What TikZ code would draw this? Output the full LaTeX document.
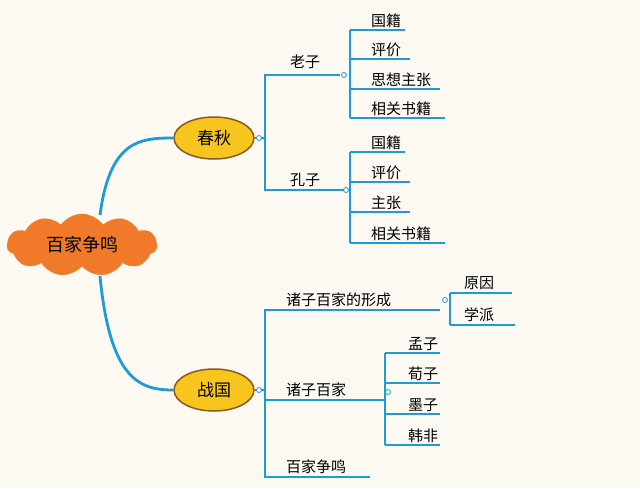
\documentclass[tikz,border=0pt]{standalone}
\usepackage{fontspec}
\newfontfamily\cjk{Noto Sans CJK SC}
\usetikzlibrary{shapes.symbols,shapes.geometric}
\definecolor{bg}{HTML}{FBF9F2}
\definecolor{ln}{HTML}{1E9BD7}
\definecolor{cl}{HTML}{F07A2A}
\definecolor{yl}{HTML}{F7C51E}
\definecolor{br}{HTML}{8A5A1E}
\begin{document}
\begin{tikzpicture}[x=1pt,y=-1pt,
  lab/.style={font=\cjk\fontsize{15}{18}\selectfont,inner sep=1pt},
  ln/.style={draw=ln,line width=2.3pt},
  bub/.style={ellipse,fill=yl,draw=br,line width=1.5pt,minimum width=80pt,minimum height=42pt,font=\cjk\fontsize{17}{20}\selectfont},
  dot/.style={circle,draw=ln,fill=bg,line width=0.8pt,inner sep=0pt,minimum size=5pt}]
\fill[bg] (0,0) rectangle (640,488);
\useasboundingbox (0,0) rectangle (640,488);
\node[cloud,cloud puffs=11,cloud puff arc=110,aspect=2.4,fill=cl,draw=cl,minimum width=150pt,minimum height=62pt,font=\cjk\fontsize{18}{20}\selectfont] (root) at (82,245) {百家争鸣};
\node[bub] (cq) at (214,138) {春秋};
\node[bub] (zg) at (214,390) {战国};
\draw[ln,line width=2.8pt] (100,215) .. controls (110,140) and (140,138) .. (cq.west);
\draw[ln,line width=2.8pt] (100,276) .. controls (110,380) and (140,390) .. (zg.west);
% 春秋
\coordinate (a1) at (265,75); \coordinate (a2) at (265,190);
\draw[ln] (cq.east) -- (265,138);
\draw[ln] (340,75) -- (a1) -- (a2) -- (345,190);
\node[dot] (d1) at (259,138) {};
\node[lab] (lz) at (305,62) {老子};
\node[lab] (kz) at (305,180) {孔子};
\draw[ln] (350,30) -- (350,118);
\node[dot] (d2) at (344,75) {};
\foreach \t/\y/\e [count=\i] in {国籍/30/405,评价/59/410,思想主张/89/440,相关书籍/118/445}{
  \draw[ln] (350,\y) -- (\e,\y);
  \node[lab,anchor=south west] (l\i) at (370,\y-1) {\t};}
\draw[ln] (350,152) -- (350,243);
\node[dot] (d3) at (346,190) {};
\foreach \t/\y/\e [count=\i] in {国籍/152/405,评价/182/410,主张/212/410,相关书籍/243/445}{
  \draw[ln] (350,\y) -- (\e,\y);
  \node[lab,anchor=south west] (k\i) at (370,\y-1) {\t};}
% 战国
\draw[ln] (zg.east) -- (265,390);
\draw[ln] (440,310) -- (265,310) -- (265,477) -- (370,477);
\draw[ln] (265,400) -- (385,400);
\node[dot] (d4) at (259,390) {};
\node[lab,anchor=south west] (xc) at (285,308) {诸子百家的形成};
\node[lab,anchor=south west] (zz) at (285,398) {诸子百家};
\node[lab,anchor=south west] (bj) at (285,475) {百家争鸣};
\draw[ln] (450,293) -- (450,325);
\node[dot] (d5) at (445,300) {};
\draw[ln] (450,293) -- (512,293); \node[lab,anchor=south west] (yy) at (463,291) {原因};
\draw[ln] (450,325) -- (515,325); \node[lab,anchor=south west] (xp) at (463,323) {学派};
\draw[ln] (385,353) -- (385,445);
\node[dot] (d6) at (388,392) {};
\foreach \t/\y [count=\i] in {孟子/353,荀子/383,墨子/414,韩非/445}{
  \draw[ln] (385,\y) -- (440,\y);
  \node[lab,anchor=south west] (m\i) at (407,\y-1) {\t};}
\end{tikzpicture}
\end{document}
